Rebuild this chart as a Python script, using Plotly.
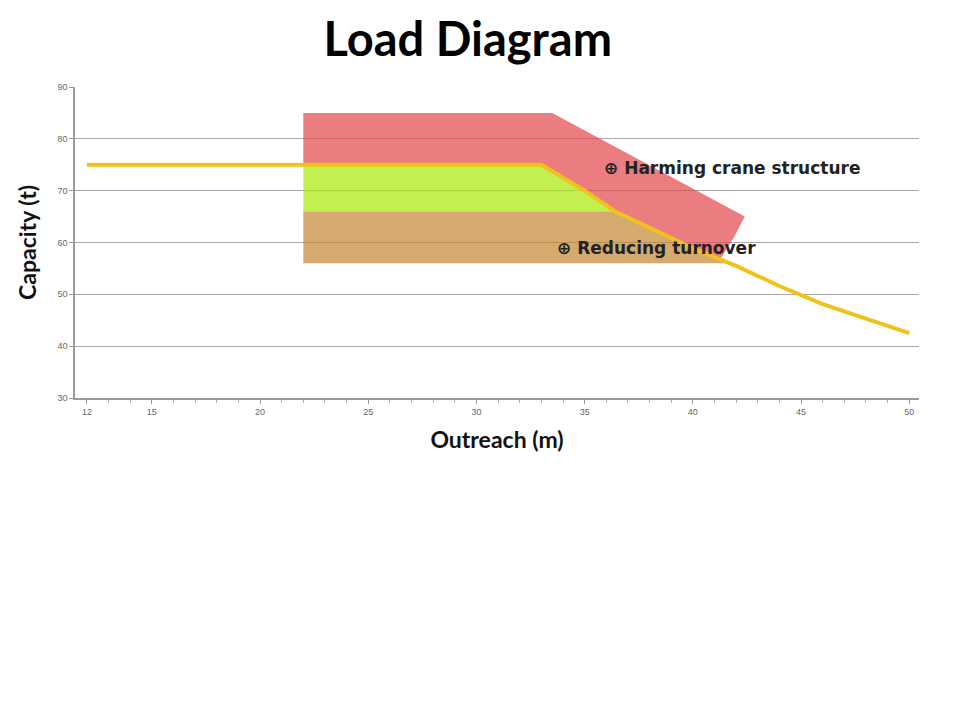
import plotly.graph_objects as go

# Load curve (outreach m -> capacity t)
outreach = [12, 33, 34, 35, 36.4, 38, 40, 42, 44, 46, 48, 50]
capacity = [75, 75, 72.5, 70, 66, 62.8, 58.9, 55.5, 51.6, 48.1, 45.2, 42.5]

# Zones (polygon outlines)
red_x = [22, 33.5, 42.4, 41.9, 41.3, 40, 38, 36.4, 35, 34, 33, 22]
red_y = [85, 85, 65, 61, 57, 58.9, 62.8, 66, 70, 72.5, 75, 75]
green_x = [22, 33, 34, 35, 36.4, 22]
green_y = [75, 75, 72.5, 70, 66, 66]
tan_x = [22, 36.4, 38, 40, 41.6, 22]
tan_y = [66, 66, 62.8, 58.9, 56, 56]

x_ticks = [12, 15, 20, 25, 30, 35, 40, 45, 50]
y_ticks = [30, 40, 50, 60, 70, 80, 90]

fig = go.Figure()
fig.add_trace(go.Scatter(x=red_x, y=red_y, fill="toself", mode="lines",
                         line=dict(width=0), fillcolor="rgba(226,69,74,0.7)",
                         hoverinfo="skip", showlegend=False))
fig.add_trace(go.Scatter(x=green_x, y=green_y, fill="toself", mode="lines",
                         line=dict(width=0), fillcolor="rgba(169,234,5,0.7)",
                         hoverinfo="skip", showlegend=False))
fig.add_trace(go.Scatter(x=tan_x, y=tan_y, fill="toself", mode="lines",
                         line=dict(width=0), fillcolor="rgba(194,134,48,0.7)",
                         hoverinfo="skip", showlegend=False))
fig.add_trace(go.Scatter(x=outreach, y=capacity, mode="lines",
                         line=dict(color="#F0C21C", width=4),
                         showlegend=False))

fig.add_annotation(x=41.8, y=74.4, text="⊕ Harming crane structure", showarrow=False,
                   font=dict(family="DejaVu Sans", size=17, color="#222222", weight="bold"))
fig.add_annotation(x=38.3, y=58.9, text="⊕ Reducing turnover", showarrow=False,
                   font=dict(family="DejaVu Sans", size=17, color="#222222", weight="bold"))

fig.update_layout(
    width=950, height=707,
    margin=dict(l=67, r=39, t=79, b=317),
    paper_bgcolor="white", plot_bgcolor="white",
    title=dict(text="Load Diagram", x=0.484, xanchor="center", y=0.955, yanchor="middle",
               font=dict(family="Lato", size=47, color="#000000", weight="bold")),
    xaxis=dict(range=[11.45, 50.45], tickvals=x_ticks, ticktext=[str(v) for v in x_ticks],
               showgrid=False, zeroline=False, showline=True, linecolor="#999999", linewidth=1.5,
               ticks="outside", ticklen=4, tickcolor="#999999",
               minor=dict(dtick=1, ticks="outside", ticklen=3, tickcolor="#aaaaaa"),
               tickfont=dict(family="Liberation Sans", size=9, color="#666666"),
               title=dict(text="Outreach (m)", standoff=16,
                          font=dict(family="Lato", size=23, color="#111111", weight="bold"))),
    yaxis=dict(range=[30, 90], tickvals=y_ticks, showgrid=True, gridcolor="#a8a8a8", gridwidth=1.2,
               zeroline=False, showline=True, linecolor="#999999", linewidth=1.5,
               ticks="outside", ticklen=4, tickcolor="#999999",
               tickfont=dict(family="Liberation Sans", size=9, color="#666666"),
               title=dict(text="Capacity (t)", standoff=14,
                          font=dict(family="Lato", size=23, color="#111111", weight="bold"))),
)

fig.write_html("out.html")
